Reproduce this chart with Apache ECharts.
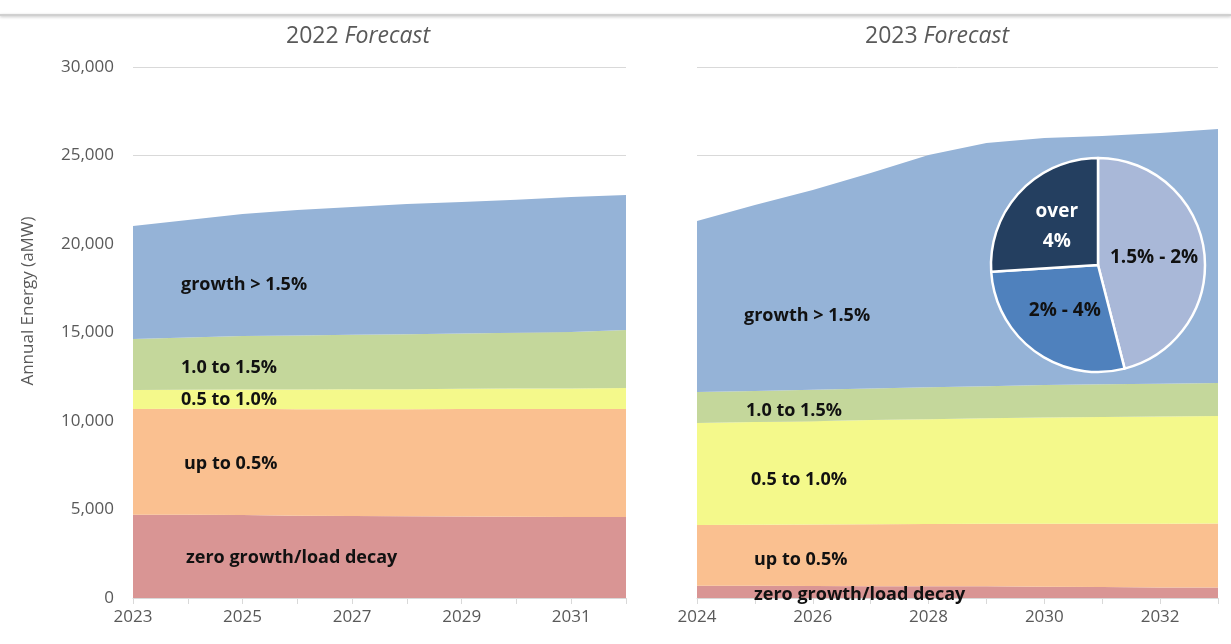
<!DOCTYPE html>
<html><head><meta charset="utf-8">
<script src="https://cdn.jsdelivr.net/npm/echarts@6/dist/echarts.min.js"></script>
<style>html,body{margin:0;padding:0;background:#fff}#c{width:1231px;height:644px}</style>
</head><body><div id="c"></div>
<script>
const years2022 = ['2023','2024','2025','2026','2027','2028','2029','2030','2031','2032'];
const years2023 = ['2024','2025','2026','2027','2028','2029','2030','2031','2032','2033'];
const seriesNames = ['zero growth/load decay','up to 0.5%','0.5 to 1.0%','1.0 to 1.5%','growth > 1.5%'];
const colors = ['#d99594','#fac090','#f4f98b','#c4d79b','#95b3d7'];
// 2022 forecast (stacked layer values, aMW)
const f22_zero   = [4700,4700,4690,4640,4630,4620,4600,4590,4580,4580];
const f22_up05   = [5980,5990,6000,6030,6040,6050,6080,6090,6100,6100];
const f22_05to10 = [1070,1080,1090,1110,1120,1130,1140,1150,1160,1180];
const f22_10to15 = [2880,2950,3020,3050,3080,3100,3120,3150,3190,3280];
const f22_gt15   = [6390,6640,6900,7090,7220,7360,7430,7520,7630,7630];
// 2023 forecast
const f23_zero   = [690,690,680,670,670,660,640,620,600,590];
const f23_up05   = [3440,3450,3470,3500,3510,3530,3560,3580,3600,3620];
const f23_05to10 = [5760,5800,5840,5880,5920,5960,6000,6030,6060,6070];
const f23_10to15 = [1750,1760,1770,1790,1800,1820,1830,1840,1850,1870];
const f23_gt15   = [9660,10500,11290,12170,13130,13740,13960,14030,14160,14350];
// pie: share of growth > 1.5% (2023 forecast)
const pieNames  = ['1.5% - 2%','2% - 4%','over 4%'];
const pieValues = [46,28,26];
const pieColors = ['#a9b8d8','#4f81bd','#243f60'];

const chart = echarts.init(document.getElementById('c'));
const font = 'Open Sans';
function mkSeries(data, idx, axis, stack){
  return {type:'line', name:seriesNames[idx], stack:stack, xAxisIndex:axis, yAxisIndex:axis,
    data:data, symbol:'none', lineStyle:{width:0}, areaStyle:{color:colors[idx], opacity:1},
    itemStyle:{color:colors[idx]}, z:2};
}
function mkX(cats, gi){
  return {type:'category', gridIndex:gi, data:cats, boundaryGap:false,
    axisLine:{show:true, lineStyle:{color:'#d9d9d9', width:1}},
    axisTick:{show:true, interval:0, length:6, lineStyle:{color:'#d9d9d9'}},
    axisLabel:{interval:1, color:'#595959', fontSize:17, fontFamily:font, margin:11},
    splitLine:{show:false}};
}
function mkY(gi, showLabel){
  return {type:'value', gridIndex:gi, min:0, max:30000, interval:5000,
    axisLine:{show:false}, axisTick:{show:false},
    axisLabel:{show:showLabel, color:'#595959', fontSize:17, fontFamily:font, margin:19,
      formatter:v=>v.toLocaleString('en-US')},
    splitLine:{show:true, lineStyle:{color:'#d9d9d9', width:1}}};
}
const lbl = (x,y,t)=>({type:'text', left:x, top:y+4, z:100,
  style:{text:t, fill:'#111', font:'bold 18px "Open Sans"'}});
const titleRich = {n:{fontSize:23,color:'#595959',fontFamily:font,fontWeight:'normal'},
                   i:{fontSize:23,color:'#595959',fontFamily:font,fontStyle:'italic',fontWeight:'normal'}};

chart.setOption({
  animation:false,
  title:[
    {text:'{n|2022 }{i|Forecast}', left:353, top:20, textAlign:'center', textStyle:{fontWeight:'normal', rich:titleRich}},
    {text:'{n|2023 }{i|Forecast}', left:932, top:20, textAlign:'center', textStyle:{fontWeight:'normal', rich:titleRich}}
  ],
  grid:[
    {left:133, width:493, top:67, height:531},
    {left:697, width:521, top:67, height:531}
  ],
  xAxis:[mkX(years2022,0), mkX(years2023,1)],
  yAxis:[mkY(0,true), mkY(1,false)],
  series:[
    mkSeries(f22_zero,0,0,'a'), mkSeries(f22_up05,1,0,'a'), mkSeries(f22_05to10,2,0,'a'),
    mkSeries(f22_10to15,3,0,'a'), mkSeries(f22_gt15,4,0,'a'),
    mkSeries(f23_zero,0,1,'b'), mkSeries(f23_up05,1,1,'b'), mkSeries(f23_05to10,2,1,'b'),
    mkSeries(f23_10to15,3,1,'b'), mkSeries(f23_gt15,4,1,'b'),
    {type:'pie', center:[1098,265], radius:107, startAngle:90, clockwise:true, z:10,
      itemStyle:{borderColor:'#fff', borderWidth:2.5},
      label:{position:'inside', fontFamily:font, fontWeight:'bold', fontSize:19, color:'#111', lineHeight:30,
        formatter:p=>p.name==='over 4%'?'over\n4%':p.name},
      data:pieNames.map((n,i)=>({name:n, value:pieValues[i], itemStyle:{color:pieColors[i]},
        label: i===2?{color:'#fff'}:{}}))}
  ],
  graphic:[
    {type:'line', shape:{x1:0,y1:15,x2:1231,y2:15}, style:{stroke:'#d0d0d0', lineWidth:2, shadowBlur:3, shadowColor:'rgba(0,0,0,0.25)', shadowOffsetY:1}},
    {type:'text', x:28, y:301, rotation:Math.PI/2, z:100,
      style:{text:'Annual Energy (aMW)', fill:'#595959', font:'17px "Open Sans"', align:'center', verticalAlign:'middle'}},
    lbl(181,272,'growth > 1.5%'),
    lbl(181,355,'1.0 to 1.5%'),
    lbl(181,387,'0.5 to 1.0%'),
    lbl(184,451,'up to 0.5%'),
    lbl(186,545,'zero growth/load decay'),
    lbl(744,303,'growth > 1.5%'),
    lbl(746,398,'1.0 to 1.5%'),
    lbl(751,467,'0.5 to 1.0%'),
    lbl(754,547,'up to 0.5%'),
    lbl(754,582,'zero growth/load decay')
  ]
});
</script></body></html>
